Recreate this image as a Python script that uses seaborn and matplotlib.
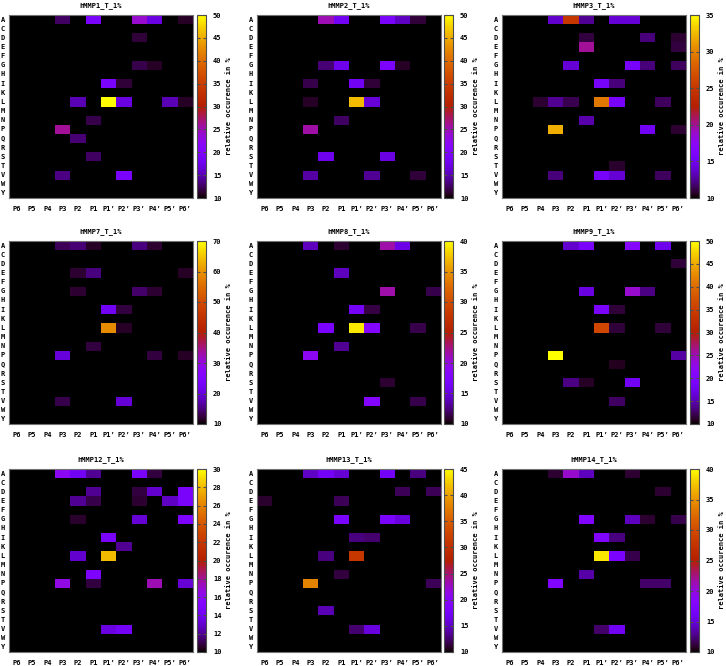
import numpy as np
import pandas as pd
import matplotlib
matplotlib.use("Agg")
import matplotlib.pyplot as plt
import seaborn as sns

residues = list("ACDEFGHIKLMNPQRSTVWY")
positions = ["P6", "P5", "P4", "P3", "P2", "P1", "P1'", "P2'", "P3'", "P4'", "P5'", "P6'"]

titles = ["hMMP1_T_1%", "hMMP2_T_1%", "hMMP3_T_1%",
          "hMMP7_T_1%", "hMMP8_T_1%", "hMMP9_T_1%",
          "hMMP12_T_1%", "hMMP13_T_1%", "hMMP14_T_1%"]
cbar_max = [50, 50, 35, 70, 40, 50, 30, 45, 40]
cbar_step = [5, 5, 5, 10, 5, 5, 2, 5, 5]

# cells above 10 % (residue, position, relative occurence)
mmp1 = [("A", "P3", 12.5), ("A", "P1", 19), ("A", "P3'", 24), ("A", "P4'", 17), ("A", "P6'", 11),
        ("D", "P3'", 11.5), ("G", "P3'", 12), ("G", "P4'", 11), ("I", "P1'", 19), ("I", "P2'", 11.5),
        ("L", "P2", 15), ("L", "P1'", 50), ("L", "P2'", 17), ("L", "P5'", 15), ("L", "P6'", 11),
        ("N", "P1", 12), ("P", "P3", 26), ("Q", "P2", 13), ("S", "P1", 12.5), ("V", "P3", 13.5),
        ("V", "P2'", 19)]
mmp2 = [("A", "P2", 25), ("A", "P1", 18), ("A", "P3'", 19), ("A", "P4'", 15.5), ("A", "P5'", 11.5),
        ("G", "P2", 13), ("G", "P1", 17.5), ("G", "P3'", 19.5), ("G", "P4'", 11), ("I", "P3", 12),
        ("I", "P1'", 18), ("I", "P2'", 11.5), ("L", "P3", 11), ("L", "P1'", 46), ("L", "P2'", 16.5),
        ("N", "P1", 12.5), ("P", "P3", 25.5), ("S", "P2", 17.5), ("S", "P3'", 17), ("V", "P3", 14.5),
        ("V", "P2'", 14), ("V", "P5'", 11.5)]
mmp3 = [("A", "P3", 13.8), ("A", "P2", 25), ("A", "P1", 12.5), ("A", "P2'", 14), ("A", "P3'", 14),
        ("D", "P1", 11), ("D", "P4'", 12), ("D", "P6'", 10.8), ("E", "P1", 20), ("E", "P6'", 11),
        ("G", "P2", 14), ("G", "P3'", 15.5), ("G", "P4'", 12), ("G", "P6'", 11.5), ("I", "P1'", 15.5),
        ("I", "P2'", 12), ("L", "P4", 10.8), ("L", "P3", 12.5), ("L", "P2", 11.3), ("L", "P1'", 29.5),
        ("L", "P2'", 15.5), ("L", "P5'", 11.5), ("N", "P1", 13), ("P", "P3", 32), ("P", "P4'", 15),
        ("P", "P6'", 10.8), ("T", "P2'", 10.7), ("V", "P3", 12), ("V", "P1'", 15.5), ("V", "P2'", 14),
        ("V", "P5'", 11.5)]
mmp7 = [("A", "P3", 13.5), ("A", "P2", 14.5), ("A", "P1", 11.5), ("A", "P3'", 15), ("A", "P4'", 12),
        ("E", "P2", 12), ("E", "P1", 15), ("E", "P6'", 11.5), ("G", "P2", 12), ("G", "P3'", 14),
        ("G", "P4'", 12), ("I", "P1'", 22), ("I", "P2'", 12.5), ("L", "P1'", 59), ("L", "P2'", 11.5),
        ("N", "P1", 12.5), ("P", "P3", 20), ("P", "P4'", 12.5), ("P", "P6'", 11.5), ("V", "P3", 13),
        ("V", "P2'", 19.5)]
mmp8 = [("A", "P3", 14), ("A", "P1", 11), ("A", "P3'", 21.5), ("A", "P4'", 15.5), ("E", "P1", 14),
        ("G", "P3'", 21.5), ("G", "P6'", 11.5), ("I", "P1'", 16.5), ("I", "P2'", 11.3), ("L", "P2", 17),
        ("L", "P1'", 39), ("L", "P2'", 18), ("L", "P5'", 11.5), ("N", "P1", 13), ("P", "P3", 19),
        ("S", "P3'", 11), ("V", "P2'", 18), ("V", "P5'", 11.5)]
mmp9 = [("A", "P2", 16), ("A", "P1", 19), ("A", "P3'", 21), ("A", "P5'", 17.5), ("D", "P6'", 11.5),
        ("G", "P1", 17), ("G", "P3'", 24), ("G", "P4'", 13.5), ("I", "P1'", 19), ("I", "P2'", 11.5),
        ("L", "P1'", 36), ("L", "P2'", 11.5), ("L", "P5'", 11.5), ("P", "P3", 50), ("P", "P6'", 14.5),
        ("Q", "P2'", 10.8), ("S", "P2", 13.5), ("S", "P1", 11), ("S", "P3'", 18), ("V", "P2'", 12.5)]
mmp12 = [("A", "P3", 16), ("A", "P2", 14), ("A", "P1", 12), ("A", "P3'", 14.5), ("A", "P4'", 10.8),
         ("D", "P1", 12), ("D", "P3'", 10.8), ("D", "P4'", 13), ("D", "P6'", 14.5), ("E", "P2", 12),
         ("E", "P1", 11), ("E", "P3'", 10.7), ("E", "P5'", 12.8), ("E", "P6'", 14.5), ("G", "P2", 10.6),
         ("G", "P3'", 13.2), ("G", "P6'", 14.8), ("I", "P1'", 14.5), ("K", "P2'", 12), ("L", "P2", 13),
         ("L", "P1'", 28), ("N", "P1", 14.8), ("P", "P3", 16.5), ("P", "P1", 10.8), ("P", "P4'", 17.5),
         ("P", "P6'", 13.2), ("V", "P1'", 13.5), ("V", "P2'", 14.2)]
mmp13 = [("A", "P3", 15), ("A", "P2", 17.5), ("A", "P1", 15.5), ("A", "P3'", 17.5), ("A", "P5'", 13),
         ("D", "P4'", 12), ("D", "P6'", 12), ("E", "P6", 11), ("E", "P1", 12), ("G", "P1", 18),
         ("G", "P3'", 18), ("G", "P4'", 16), ("I", "P1'", 13), ("I", "P2'", 12.5), ("L", "P2", 13),
         ("L", "P1'", 31), ("N", "P1", 11.5), ("P", "P3", 38), ("P", "P6'", 12), ("S", "P2", 14.5),
         ("V", "P1'", 12.5), ("V", "P2'", 16)]
mmp14 = [("A", "P3", 11), ("A", "P2", 20.5), ("A", "P1", 14), ("A", "P3'", 11), ("D", "P5'", 11),
         ("G", "P1", 17.5), ("G", "P3'", 14), ("G", "P4'", 11), ("G", "P6'", 11.5), ("I", "P1'", 17.5),
         ("I", "P2'", 12.5), ("L", "P1'", 39), ("L", "P2'", 17), ("L", "P3'", 11.5), ("N", "P1", 13.5),
         ("P", "P3", 17.5), ("P", "P4'", 12), ("P", "P5'", 12), ("V", "P1'", 12), ("V", "P2'", 16)]

panels = [mmp1, mmp2, mmp3, mmp7, mmp8, mmp9, mmp12, mmp13, mmp14]

plt.rcParams['font.family'] = ['DejaVu Sans Mono']
plt.rcParams['font.weight'] = 'bold'
plt.rcParams['font.size'] = 5

W, H = 726, 666
fig = plt.figure(figsize=(W / 100, H / 100), dpi=100)

col_x = [9, 257, 502]
cbar_x = [197, 444, 690]
row_top = [15, 241, 469]
hm_w, hm_h, cb_w = 184, 183, 9

xlabels = [p.replace("'", "\u2019") for p in positions]

for i, cells in enumerate(panels):
    r, c = divmod(i, 3)
    df = pd.DataFrame(0.0, index=residues, columns=positions)
    for res, pos, val in cells:
        df.loc[res, pos] = val

    ax = fig.add_axes([col_x[c] / W, 1 - (row_top[r] + hm_h) / H, hm_w / W, hm_h / H])
    cax = fig.add_axes([cbar_x[c] / W, 1 - (row_top[r] + hm_h) / H, cb_w / W, hm_h / H])
    ticks = np.arange(10, cbar_max[i] + 0.1, cbar_step[i])
    sns.heatmap(df, ax=ax, cbar_ax=cax, cmap="gnuplot", vmin=10, vmax=cbar_max[i],
                xticklabels=xlabels, yticklabels=residues,
                cbar_kws={"ticks": ticks})
    ax.set_title(titles[i], fontsize=5, fontweight='bold', pad=6)
    ax.tick_params(axis='y', length=0, pad=3, labelsize=5)
    ax.tick_params(axis='x', length=0, pad=6, labelsize=5)
    ax.set_yticklabels(residues, rotation=0)
    ax.set_xticklabels(xlabels, rotation=0)
    for s in ax.spines.values():
        s.set_visible(True)
        s.set_color("0.45")
        s.set_linewidth(0.8)

    cb = ax.collections[0].colorbar
    cb.outline.set_linewidth(0.8)
    cb.outline.set_edgecolor("0.3")
    cax.tick_params(direction='in', length=2.5, left=True, right=True, labelsize=5, pad=5,
                    color="0.3")
    cax.set_yticklabels([f"{t:g}" for t in ticks])
    cb.set_label("relative occurence in %", fontsize=5, fontweight='bold', labelpad=3)

fig.savefig("out.png", dpi=100)
